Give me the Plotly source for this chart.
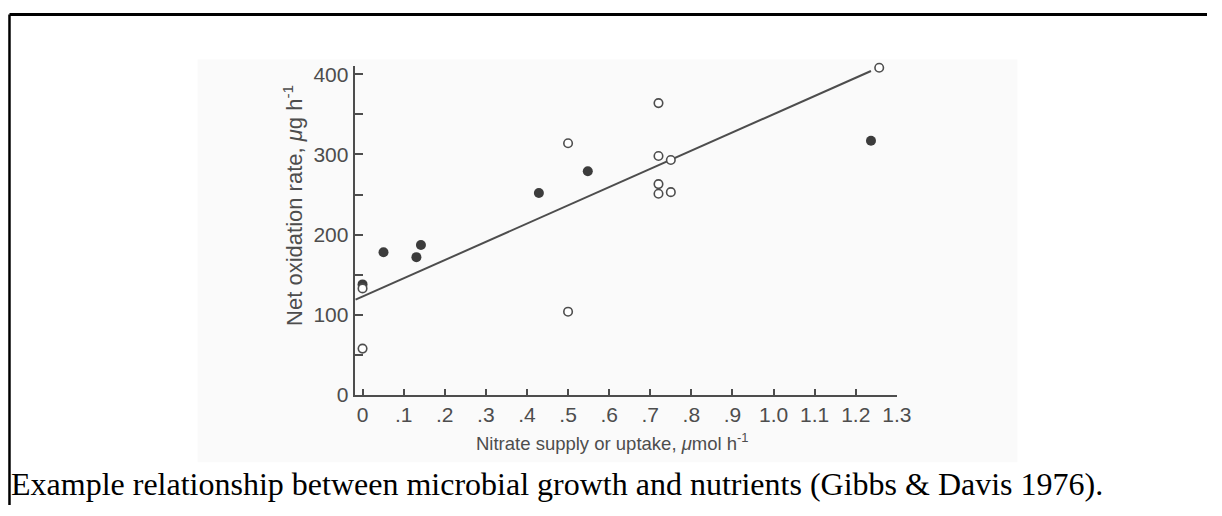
import plotly.graph_objects as go

# ---- data ----
open_x = [0.0, 0.0, 0.50, 0.50, 0.72, 0.72, 0.75, 0.72, 0.72, 0.75, 1.257]
open_y = [58, 133, 104, 314, 364, 298, 293, 263, 251, 253, 408]
filled_x = [0.0, 0.051, 0.131, 0.142, 0.429, 0.548, 1.237]
filled_y = [138, 178, 172, 187, 252, 279, 317]
fit_x = [-0.017, 1.237]
fit_y = [119, 404]
x_ticks = [0, 0.1, 0.2, 0.3, 0.4, 0.5, 0.6, 0.7, 0.8, 0.9, 1.0, 1.1, 1.2, 1.3]
x_ticktext = ["0", ".1", ".2", ".3", ".4", ".5", ".6", ".7", ".8", ".9", "1.0", "1.1", "1.2", "1.3"]
y_ticks = [0, 100, 200, 300, 400]

# page body adds an 8px margin; figure is sized to fit the window
OFF = 8
W, H = 1222 - OFF, 516 - OFF
INK = "#4d4d4d"


def px(xs):
    """screen x pixel -> paper fraction"""
    return (xs - OFF) / W


def py(ys):
    """screen y pixel -> paper fraction"""
    return (H - (ys - OFF)) / H


fig = go.Figure()
fig.add_trace(go.Scatter(x=fit_x, y=fit_y, mode="lines",
                         line=dict(color=INK, width=2), cliponaxis=False, showlegend=False))
fig.add_trace(go.Scatter(x=filled_x, y=filled_y, mode="markers",
                         marker=dict(symbol="circle", size=10, color="#3c3c3c"),
                         cliponaxis=False, showlegend=False))
fig.add_trace(go.Scatter(x=open_x, y=open_y, mode="markers",
                         marker=dict(symbol="circle", size=8.5, color="white",
                                     line=dict(color=INK, width=1.6)),
                         cliponaxis=False, showlegend=False))

fig.update_layout(
    width=W, height=H,
    margin=dict(l=0, r=0, t=0, b=0),
    paper_bgcolor="white",
    plot_bgcolor="rgba(0,0,0,0)",
    font=dict(family="Liberation Sans, Arial, sans-serif", color=INK),
    xaxis=dict(domain=[px(359), px(908)], range=[-0.0192, 1.3],
               tickmode="array", tickvals=x_ticks, ticktext=x_ticktext,
               ticks="inside", ticklen=6, tickwidth=1.5, tickcolor=INK,
               showline=True, linecolor=INK, linewidth=2,
               showgrid=False, zeroline=False,
               tickfont=dict(size=21, color=INK)),
    yaxis=dict(domain=[py(403), py(64.75)], range=[0, 410],
               tickmode="array", tickvals=y_ticks,
               ticks="inside", ticklen=8, tickwidth=1.5, tickcolor=INK,
               minor=dict(ticks="inside", dtick=50, ticklen=8, tickwidth=1.5, tickcolor=INK),
               showline=True, linecolor=INK, linewidth=2,
               showgrid=False, zeroline=False,
               tickfont=dict(size=21, color=INK)),
    shapes=[
        dict(type="rect", xref="paper", yref="paper",
             x0=px(200), x1=px(1030), y0=py(472), y1=py(58),
             fillcolor="#fafafa", line=dict(width=0), layer="below"),
        dict(type="line", xref="paper", yref="paper",
             x0=px(9.5), x1=1.0, y0=py(11.5), y1=py(11.5),
             line=dict(color="black", width=3)),
        dict(type="line", xref="paper", yref="paper",
             x0=px(9.5), x1=px(9.5), y0=py(11.5), y1=0,
             line=dict(color="black", width=2.5)),
    ],
    annotations=[
        dict(text="Net oxidation rate, <i>μ</i>g h<sup>-1</sup>", textangle=-90,
             xref="paper", yref="paper", x=px(297), y=py(208),
             xanchor="center", yanchor="middle", showarrow=False,
             font=dict(size=22, color=INK)),
        dict(text="Nitrate supply or uptake, <i>μ</i>mol h<sup>-1</sup>",
             xref="paper", yref="paper", x=px(620), y=py(451),
             xanchor="center", yanchor="middle", showarrow=False,
             font=dict(size=18.5, color=INK)),
        dict(text="Example relationship between microbial growth and nutrients (Gibbs &amp; Davis 1976).",
             xref="paper", yref="paper", x=px(9), y=py(494),
             xanchor="left", yanchor="middle", showarrow=False,
             font=dict(family="Liberation Serif, Times New Roman, serif", size=32, color="black")),
    ],
)

fig.write_html("out.html")
